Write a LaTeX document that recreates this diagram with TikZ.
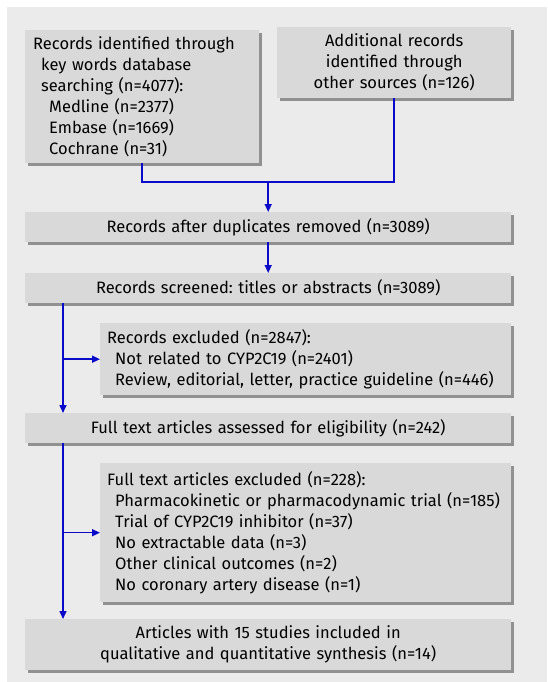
\documentclass[tikz,border=0pt]{standalone}
\usepackage{fontspec}
\setmainfont{Fira Sans}
\frenchspacing
\usetikzlibrary{arrows.meta,backgrounds}
\definecolor{bgc}{RGB}{235,235,235}
\definecolor{boxc}{RGB}{217,217,217}
\definecolor{shc}{RGB}{145,145,145}
\definecolor{linec}{RGB}{10,10,200}
\tikzset{
  box/.style={anchor=north west, fill=boxc, inner ysep=0pt, font=\fontsize{16.5}{21}\selectfont},
  cbox/.style={box, align=center, inner xsep=0pt},
  lbox/.style={box, align=left, inner xsep=8pt},
  conn/.style={draw=linec, line width=1.5pt},
  arr/.style={conn, -{Triangle[length=8pt,width=7pt]}},
  shadowfill/.style={fill=shc}
}
\newcommand{\boxshadow}[1]{\fill[shadowfill] ([shift={(3,3)}]#1.south west) rectangle ([shift={(3,3)}]#1.north east);}
\begin{document}
\begin{tikzpicture}[x=1pt,y=-1pt]
\useasboundingbox (0,0) rectangle (547,682);
\node[lbox, text width=218pt, minimum height=133pt] (b1) at (25,30) {Records identified through\\
\hspace*{8pt}key words database\\
\hspace*{8pt}searching (n=4077):\\
\hspace*{16pt}Medline (n=2377)\\
\hspace*{16pt}Embase (n=1669)\\
\hspace*{16pt}Cochrane (n=31)};
\node[cbox, text width=234pt, minimum height=71pt] (b2) at (277,27) {Additional records\\identified through\\other sources (n=126)};
\node[cbox, text width=486pt, minimum height=30pt] (b3) at (25,212) {Records after duplicates removed (n=3089)};
\node[cbox, text width=486pt, minimum height=30pt] (b4) at (25,273) {Records screened: titles or abstracts (n=3089)};
\node[lbox, inner xsep=7pt, text width=397pt, minimum height=72pt] (b5) at (100,323) {Records excluded (n=2847):\\
\hspace*{8pt}Not related to CYP2C19 (n=2401)\\
\hspace*{8pt}Review, editorial, letter, practice guideline (n=446)};
\node[cbox, text width=486pt, minimum height=30pt] (b6) at (25,413) {Full text articles assessed for eligibility (n=242)};
\node[lbox, inner xsep=7pt, text width=397pt, minimum height=139pt] (b7) at (100,463) {Full text articles excluded (n=228):\\
\hspace*{8pt}Pharmacokinetic or pharmacodynamic trial (n=185)\\
\hspace*{8pt}Trial of CYP2C19 inhibitor (n=37)\\
\hspace*{8pt}No extractable data (n=3)\\
\hspace*{8pt}Other clinical outcomes (n=2)\\
\hspace*{8pt}No coronary artery disease (n=1)};
\node[cbox, text width=486pt, minimum height=51pt] (b8) at (25,619) {Articles with 15 studies included in\\qualitative and quantitative synthesis (n=14)};
\begin{pgfonlayer}{background}
\fill[bgc] (7,7) rectangle (547,682);
\boxshadow{b1}\boxshadow{b2}\boxshadow{b3}\boxshadow{b4}
\boxshadow{b5}\boxshadow{b6}\boxshadow{b7}\boxshadow{b8}
\end{pgfonlayer}
\coordinate (j) at (b3.north |- 0,182);
\coordinate (l) at (63,0);
\draw[conn] (b1.south) |- (j) -| (b2.south);
\draw[arr] (j) -- (b3.north);
\draw[arr] (b3.south) -- (b4.north);
\draw[arr] (b4.south -| l) -- (b6.north -| l);
\draw[arr] (b5.west -| l) -- (b5.west);
\draw[arr] (b6.south -| l) -- (b8.north -| l);
\draw[arr] (b7.west -| l) -- (b7.west);
\end{tikzpicture}
\end{document}
